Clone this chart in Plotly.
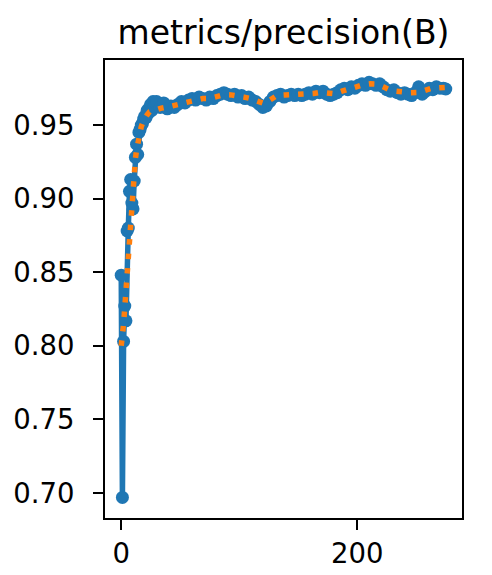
import plotly.graph_objects as go

# results curve (blue) - epoch / value
epochs = [0, 1, 2, 3, 4, 5, 6, 7, 8, 9, 10, 11, 12, 13, 14, 15, 16, 17, 18, 19,
          20, 21, 22, 23, 24, 25, 26, 27, 28, 29,
          30, 33, 36, 39, 42, 45, 48, 51, 54, 57, 60, 63, 66, 69, 72, 75, 78, 81,
          84, 87, 90, 93, 96, 99, 102, 105, 108, 111, 114, 117, 120, 123, 126,
          129, 132, 135, 138, 141, 144, 147, 150, 153, 156, 159, 162, 165, 168,
          171, 174, 177, 180, 183, 186, 189, 192, 195, 198, 201, 204, 207, 210,
          213, 216, 219, 222, 225, 228, 231, 234, 237, 240, 243, 246, 249, 252,
          255, 258, 261, 264, 267, 270, 273, 275]
precision = [0.848, 0.697, 0.803, 0.827, 0.817, 0.878, 0.880, 0.905, 0.913, 0.897,
             0.893, 0.912, 0.928, 0.937, 0.930, 0.945, 0.947, 0.950, 0.951, 0.954,
             0.956, 0.955, 0.960, 0.958, 0.962, 0.964, 0.960, 0.966, 0.963, 0.965,
             0.966, 0.962, 0.965, 0.961, 0.963, 0.962, 0.964, 0.966, 0.965, 0.967,
             0.968, 0.967, 0.969, 0.968, 0.967, 0.969, 0.968, 0.970, 0.971, 0.972,
             0.971, 0.970, 0.971, 0.969, 0.970, 0.968, 0.969, 0.967, 0.966, 0.964,
             0.962, 0.963, 0.966, 0.969, 0.970, 0.971, 0.969, 0.970, 0.971, 0.970,
             0.971, 0.970, 0.971, 0.972, 0.971, 0.973, 0.972, 0.973, 0.971, 0.970,
             0.971, 0.972, 0.974, 0.975, 0.974, 0.976, 0.975, 0.977, 0.978, 0.977,
             0.979, 0.978, 0.977, 0.978, 0.976, 0.974, 0.973, 0.974, 0.972, 0.971,
             0.972, 0.971, 0.970, 0.972, 0.976, 0.971, 0.973, 0.975, 0.974, 0.976,
             0.975, 0.975, 0.9745]

# smoothed curve (orange dotted)
smooth_epochs = [0, 1, 2, 3, 4, 5, 6, 7, 8, 9, 10, 11, 12, 13, 14, 15, 16, 17, 18,
                 19, 20, 22, 24, 27, 30, 34, 40, 46, 52, 58, 63, 69, 75, 81, 87, 93,
                 98, 104, 109, 115, 121, 126, 132, 139, 145, 151, 157, 163, 169,
                 175, 181, 187, 193, 199, 205, 211, 217, 222, 228, 233, 239, 245,
                 252, 257, 263, 268, 273, 275]
smooth = [0.800, 0.806, 0.815, 0.826, 0.838, 0.851, 0.864, 0.877, 0.889, 0.900,
          0.910, 0.919, 0.927, 0.933, 0.938, 0.942, 0.946, 0.949, 0.951, 0.953,
          0.955, 0.957, 0.959, 0.960, 0.961, 0.9615, 0.9624, 0.9635, 0.9647,
          0.966, 0.9674, 0.968, 0.9681, 0.969, 0.9706, 0.9705, 0.9701, 0.969,
          0.9681, 0.966, 0.9647, 0.967, 0.9701, 0.9704, 0.9706, 0.9705, 0.9706,
          0.9715, 0.9723, 0.9718, 0.9712, 0.973, 0.9745, 0.976, 0.9774, 0.978,
          0.9778, 0.976, 0.9738, 0.973, 0.9722, 0.972, 0.9722, 0.9735, 0.975,
          0.9752, 0.9756, 0.9755]

title = "metrics/precision(B)"
y_ticks = [0.70, 0.75, 0.80, 0.85, 0.90, 0.95]
x_ticks = [0, 200]

fig = go.Figure()
fig.add_trace(go.Scatter(x=epochs, y=precision, mode="lines+markers",
                         line=dict(color="#1f77b4", width=5.5),
                         marker=dict(color="#1f77b4", size=13, line=dict(width=0))))
fig.add_trace(go.Scatter(x=smooth_epochs, y=smooth, mode="lines",
                         line=dict(color="#ff7f0e", width=5.5, dash="5.5px,9px")))

axis_style = dict(showline=True, mirror=True, linecolor="black", linewidth=2.2,
                  ticks="outside", ticklen=10, tickwidth=2.2, tickcolor="black",
                  showgrid=False, zeroline=False, automargin=False,
                  tickfont=dict(family="DejaVu Sans", size=27.5, color="black"))

fig.update_xaxes(range=[-13.75, 288.75], tickvals=x_ticks, **axis_style)
fig.update_yaxes(range=[0.683, 0.9942], tickvals=y_ticks, tickformat=".2f",
                 ticklabelstandoff=13, **axis_style)

# page body has an 8px margin, so the figure is 8px smaller and shifted
fig.update_layout(
    width=484, height=567,
    margin=dict(l=97, r=30, t=52, b=57),
    plot_bgcolor="white", paper_bgcolor="white",
    showlegend=False,
    title=dict(text=title, x=0.5, xref="paper", xanchor="center",
               y=1, yref="paper", yanchor="bottom", pad=dict(b=16),
               font=dict(family="DejaVu Sans", size=33, color="black")),
)

fig.write_html("out.html")
